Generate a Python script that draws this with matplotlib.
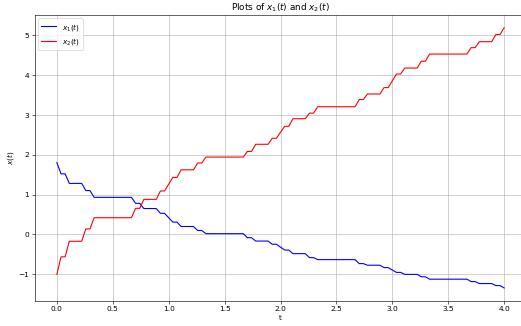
import numpy as np
import matplotlib
matplotlib.use('Agg')
from matplotlib import pyplot as plt

# plateau intervals (start, end)
plateau_start = [0.037, 0.111, 0.259, 0.333, 0.704, 0.778, 0.926,
                 1.037, 1.111, 1.259, 1.333, 1.704, 1.778, 1.926,
                 2.037, 2.111, 2.259, 2.333, 2.704, 2.778, 2.926,
                 3.037, 3.111, 3.259, 3.333, 3.704, 3.778, 3.926]
plateau_end = [0.074, 0.222, 0.296, 0.667, 0.741, 0.889, 0.963,
               1.074, 1.222, 1.296, 1.667, 1.741, 1.889, 1.963,
               2.074, 2.222, 2.296, 2.667, 2.741, 2.889, 2.963,
               3.074, 3.222, 3.296, 3.667, 3.741, 3.889, 3.963]

x1_start, x1_end = 1.80, -1.34
x1_levels = [1.52, 1.28, 1.10, 0.93, 0.78, 0.65, 0.53,
             0.31, 0.20, 0.10, 0.02, -0.08, -0.165, -0.245,
             -0.39, -0.48, -0.58, -0.63, -0.73, -0.77, -0.83,
             -0.95, -1.00, -1.06, -1.12, -1.18, -1.23, -1.28]

x2_start, x2_end = -1.0, 5.18
x2_levels = [-0.56, -0.17, 0.14, 0.42, 0.655, 0.88, 1.09,
             1.43, 1.62, 1.79, 1.94, 2.08, 2.26, 2.41,
             2.71, 2.90, 3.04, 3.20, 3.38, 3.52, 3.68,
             4.02, 4.17, 4.34, 4.52, 4.68, 4.83, 5.01]


def build(start, levels, end):
    t = [0.0]
    v = [start]
    for a, b, lv in zip(plateau_start, plateau_end, levels):
        t += [a, b]
        v += [lv, lv]
    t.append(4.0)
    v.append(end)
    return np.array(t), np.array(v)


t1, x1 = build(x1_start, x1_levels, x1_end)
t2, x2 = build(x2_start, x2_levels, x2_end)

dpi = 521 / 9.8
fig = plt.figure(figsize=(9.8, 326.3 / dpi), dpi=dpi)
ax = fig.add_axes([34.5 / 521, 25 / 326, 492 / 521, 286 / 326])
ax.plot(t1, x1, color='b', label='$x_1(t)$')
ax.plot(t2, x2, color='r', label='$x_2(t)$')
ax.set_title('Plots of $x_1(t)$ and $x_2(t)$')
ax.set_xlabel('t')
ax.set_ylabel('$x(t)$')
ax.legend(loc='upper left')
ax.grid(True)
fig.savefig('out.png', dpi=dpi)
